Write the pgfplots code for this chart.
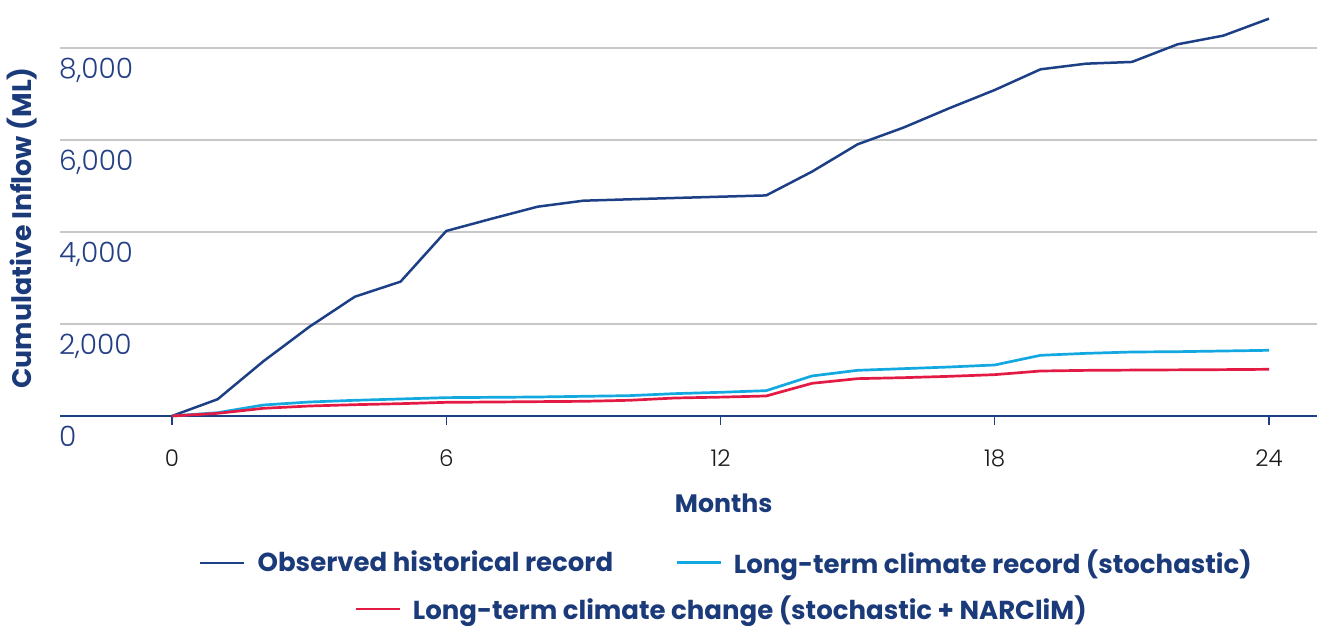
\documentclass[border=0pt]{standalone}
\usepackage{fontspec}
\setmainfont{Poppins}
\newfontfamily\lightfont{Poppins}[UprightFont=* Light]
\usepackage{pgfplots}
\pgfplotsset{compat=1.18}
\definecolor{navy}{HTML}{1D3F86}
\definecolor{titlenavy}{HTML}{1B3A7A}
\definecolor{ticknavy}{HTML}{243F86}
\definecolor{skyb}{HTML}{13A8E0}
\definecolor{redl}{HTML}{E31B44}
\definecolor{gridg}{HTML}{C8C8C8}
\begin{document}
\begin{tikzpicture}
\useasboundingbox (0,0) rectangle (658.5pt,313pt);
\begin{axis}[
  at={(30pt,105pt)}, anchor=south west,
  scale only axis, width=628.5pt, height=208pt,
  xmin=-2.45, xmax=25.05, ymin=0, ymax=9043,
  axis x line*=bottom, axis y line*=left,
  y axis line style={draw=none},
  x axis line style={navy, line width=0.8pt, -},
  xtick={0,6,12,18,24},
  xtick align=outside, xtick style={navy, line width=0.6pt},
  major tick length=4.5pt,
  ytick={0,2000,4000,6000,8000},
  ytick style={draw=none},
  ymajorgrids, grid style={gridg, line width=0.6pt},
  scaled y ticks=false,
  /pgf/number format/1000 sep={,},
  /pgf/number format/assume math mode=true,
  yticklabel style={anchor=north west, font=\lightfont\fontsize{14}{16}\selectfont, text=ticknavy, xshift=-4pt, yshift=-1.5pt},
  xticklabel style={font=\lightfont\fontsize{11.5}{13}\selectfont, text=black!90, yshift=-9pt},
  xlabel={\textbf{Months}},
  xlabel style={at={(axis description cs:0.528,-0.209)}, anchor=center, font=\fontsize{12.6}{14}\selectfont, text=titlenavy},
  ylabel={\textbf{Cumulative Inflow (ML)}},
  ylabel style={at={(axis description cs:-0.0302,0.452)}, anchor=center, rotate=0, font=\fontsize{13.4}{15}\selectfont, text=titlenavy},
  legend columns=2,
  legend style={at={(axis description cs:0.531,-0.353)}, anchor=center, draw=none, fill=none,
    font=\fontsize{13}{15}\selectfont\bfseries, text=titlenavy,
    /tikz/every odd column/.append style={column sep=4pt},
    /tikz/every even column/.append style={column sep=29pt}},
  legend image code/.code={\draw[#1] (0pt,0pt) -- (22pt,0pt);},
  clip=false,
]
\addplot[navy, line width=1.25pt] coordinates {
(0,0) (1,365) (2,1190) (3,1935) (4,2593) (5,2920) (6,4022) (7,4290) (8,4550)
(9,4680) (10,4710) (11,4739) (12,4767) (13,4795) (14,5311) (15,5906) (16,6268)
(17,6688) (18,7087) (19,7536) (20,7659) (21,7696) (22,8080) (23,8268) (24,8637)};
\addlegendentry{Observed historical record}
\addplot[skyb, line width=1.35pt] coordinates {
(0,0) (1,72) (2,239) (3,304) (4,341) (5,370) (6,399) (7,406) (8,413)
(9,428) (10,442) (11,486) (12,515) (13,551) (14,870) (15,993) (16,1029)
(17,1065) (18,1109) (19,1319) (20,1362) (21,1391) (22,1398) (23,1413) (24,1428)};
\addlegendentry{Long-term climate record (stochastic)}
\addplot[redl, line width=1.35pt] coordinates {
(0,0) (1,58) (2,167) (3,217) (4,246) (5,268) (6,297) (7,304) (8,312)
(9,319) (10,341) (11,391) (12,410) (13,435) (14,710) (15,812) (16,833)
(17,862) (18,899) (19,978) (20,992) (21,998) (22,1003) (23,1008) (24,1015)};
\end{axis}
\begin{axis}[
  at={(30pt,105pt)}, anchor=south west,
  scale only axis, width=628.5pt, height=208pt,
  xmin=-2.45, xmax=25.05, ymin=0, ymax=9043,
  hide axis,
  legend style={at={(axis description cs:0.527,-0.4640)}, anchor=center, draw=none, fill=none,
    font=\fontsize{13}{15}\selectfont\bfseries, text=titlenavy,
    /tikz/every odd column/.append style={column sep=4pt}},
  legend image code/.code={\draw[#1] (0pt,0pt) -- (22pt,0pt);},
]
\addlegendimage{redl, line width=1.35pt}
\addlegendentry{Long-term climate change (stochastic + NARCliM)}
\end{axis}
\end{tikzpicture}
\end{document}
